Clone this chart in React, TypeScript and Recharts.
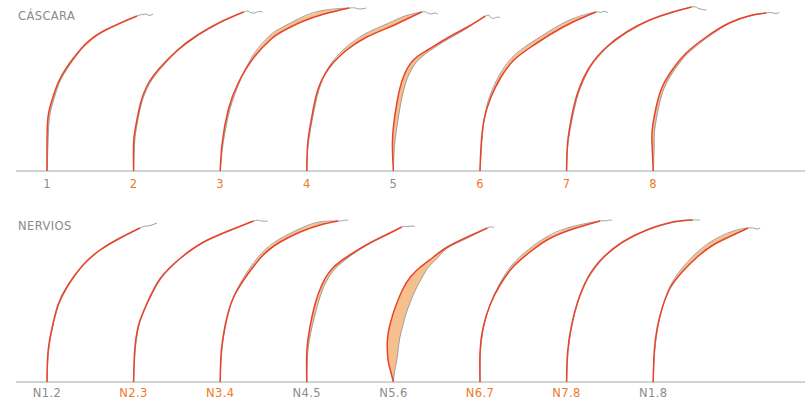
import React from 'react';
import { ScatterChart, Scatter, XAxis, YAxis } from 'recharts';

type Pt = [number, number];
interface Shape { red: Pt[]; grey: Pt[]; tail: Pt[] }

const cascaraLabels = ['1', '2', '3', '4', '5', '6', '7', '8'];
const cascaraHighlight = [false, true, true, true, false, true, true, true];
const nerviosLabels = ['N1.2', 'N2.3', 'N3.4', 'N4.5', 'N5.6', 'N6.7', 'N7.8', 'N1.8'];
const nerviosHighlight = [false, true, true, false, false, true, true, false];

// Each section: red = deformed profile, grey = original profile (offsets from its base: [dx, height])
const cascaraShapes: Shape[] = [
  {
    red: [[0, 0], [0, 28], [1, 54], [5, 71], [11, 88], [20, 104], [33, 121], [53, 138], [90, 155]],
    grey: [[0, 0], [1, 28], [2.5, 54], [6.5, 70.5], [12, 87.5], [21, 103.5], [33.5, 120.5], [53, 137.5], [90, 155]],
    tail: [[96, 156], [99, 157], [102, 155.5], [106, 157]],
  },
  {
    red: [[0, 0], [0, 28], [2, 44], [7, 68], [15, 88], [27, 104], [44, 121], [64, 136], [87, 149], [110, 159]],
    grey: [[0, 0], [1, 28], [3, 44], [8, 68], [16, 87.5], [28, 103.5], [44.5, 120.5], [64.5, 135.5], [87, 148.5], [110, 159]],
    tail: [[116, 159], [121, 158], [125, 159.5], [129, 159]],
  },
  {
    red: [[0, 0], [2, 28], [8, 61], [18, 88], [34, 114], [51, 132], [61, 139], [81, 149], [104, 157], [129, 163]],
    grey: [[0, 0], [3, 28], [9.5, 61], [19, 88], [33, 116], [49, 135], [59, 142], [79, 152.5], [102, 160.5], [129, 163]],
    tail: [[135, 163], [140, 162], [146, 163]],
  },
  {
    red: [[0, 0], [1, 28], [5, 54], [11, 81], [23, 104], [40, 121], [60, 134], [83, 144], [100, 152], [115, 159]],
    grey: [[0, 0], [1.5, 28], [6, 54], [12, 81], [22.5, 105], [38.5, 123], [58, 137], [81, 147.5], [98, 155], [115, 159]],
    tail: [[120, 158.5], [124, 157], [128, 158], [131, 157]],
  },
  {
    red: [[0, 0], [-1, 24], [0, 44], [4, 71], [10, 94], [20, 111], [34, 121], [54, 133], [74, 144], [92, 155]],
    grey: [[0, 0], [1, 24], [3.5, 44], [8, 71], [14, 93], [23, 109], [36, 120], [55, 132], [74, 143], [92, 155]],
    tail: [[97, 154], [100, 152.5], [104, 154], [107, 153]],
  },
  {
    red: [[0, 0], [1, 24], [4, 51], [11, 74], [21, 94], [34, 111], [51, 124], [71, 137], [93, 149], [116, 159]],
    grey: [[0, 0], [1.5, 24], [4, 51], [10, 75.5], [19.5, 96], [32, 113.5], [49, 127], [69.5, 140], [92, 152], [116, 159]],
    tail: [[120, 158], [123, 159.5], [128, 158.5]],
  },
  {
    red: [[0, 0], [1, 28], [5, 54], [11, 78], [23, 104], [40, 124], [60, 139], [83, 151], [106, 159], [125, 164]],
    grey: [[0, 0], [1.5, 28], [6, 54], [12, 78], [23.5, 103.5], [40.5, 123.5], [60.5, 138.5], [83, 150.5], [106, 158.5], [125, 164]],
    tail: [[131, 163], [136, 161.5], [140, 161]],
  },
  {
    red: [[0, 0], [-1, 24], [-1, 41], [3, 64], [9, 84], [19, 101], [33, 118], [53, 134], [76, 148], [99, 156], [113, 158]],
    grey: [[0, 0], [1, 24], [1.5, 41], [5.5, 64], [11, 83], [20.5, 100], [34, 117], [53.5, 133], [76, 147.5], [99, 155.5], [113, 158]],
    tail: [[118, 158.5], [122, 157.5], [126, 158.5]],
  },
];

const nerviosShapes: Shape[] = [
  {
    red: [[0, 0], [1, 30], [5, 54], [11, 77], [21, 97], [36, 117], [53, 132], [73, 144], [93, 154]],
    grey: [[0, 0], [1.5, 30], [5.5, 54], [11.5, 76.5], [21.5, 96.5], [36, 116.5], [53, 131.5], [73, 143.5], [93, 154]],
    tail: [[100, 156], [105, 157], [110, 159]],
  },
  {
    red: [[0, 0], [1, 30], [5, 57], [14, 80], [27, 104], [47, 124], [70, 140], [97, 152], [120, 161]],
    grey: [[0, 0], [1.5, 30], [5.5, 57], [14.5, 80], [27.5, 103.5], [47, 123.5], [70, 139.5], [97, 151.5], [120, 161]],
    tail: [[128, 161], [134, 161]],
  },
  {
    red: [[0, 0], [1, 30], [5, 57], [13, 84], [27, 107], [43, 127], [60, 140], [80, 150], [100, 157], [118, 161]],
    grey: [[0, 0], [1.5, 30], [5.5, 57], [13, 84], [26, 108.5], [41.5, 129], [58.5, 142.5], [79, 153], [99, 160], [118, 161]],
    tail: [[123, 161.5], [128, 162]],
  },
  {
    red: [[0, 0], [0, 30], [3, 54], [8, 77], [15, 97], [26, 114], [43, 127], [63, 139], [83, 149], [95, 155]],
    grey: [[0, 0], [1, 30], [5, 54], [10.5, 76], [17, 95.5], [27.5, 112.5], [43.5, 126], [63, 138.5], [83, 148.5], [95, 155]],
    tail: [[101, 155.5], [105, 156], [108, 155.5]],
  },
  {
    red: [[0, 0], [-2.3, 9], [-5, 20], [-6, 30], [-6, 42], [-4, 55], [-1, 66], [2, 75], [9, 92], [17, 105], [27, 115], [40, 125], [54, 135], [74, 145], [94, 154]],
    grey: [[0, 0], [1, 9], [3, 20], [4.5, 30], [6, 42], [9, 55], [12, 66], [15, 75], [22, 92], [29, 105], [35, 115], [44, 124], [54, 134], [74, 144], [94, 154]],
    tail: [[98, 155], [101, 155]],
  },
  {
    red: [[0, 0], [0, 30], [3, 54], [10, 77], [20, 97], [33, 115], [50, 130], [67, 142], [90, 152], [120, 161]],
    grey: [[0, 0], [0.5, 30], [3.5, 54], [10, 77], [19.5, 98], [32, 117], [48.5, 132.5], [65.5, 144.5], [89, 154.5], [120, 161]],
    tail: [[125, 161], [130, 162], [132, 161]],
  },
  {
    red: [[0, 0], [1, 30], [5, 57], [11, 80], [21, 104], [36, 124], [56, 140], [80, 152], [106, 160], [126, 162]],
    grey: [[0, 0], [1.5, 30], [5.5, 57], [11.5, 80], [21.5, 103.5], [36.5, 123.5], [56, 139.5], [80, 151.5], [106, 159.5], [126, 162]],
    tail: [[130, 162], [133, 162]],
  },
  {
    red: [[0, 0], [1, 30], [4, 54], [9, 74], [17, 94], [29, 110], [44, 125], [60, 137], [80, 147], [95, 154]],
    grey: [[0, 0], [1.5, 30], [4.5, 54], [9, 74], [16.5, 95], [27.5, 112], [42, 128], [58, 140.5], [78.5, 150.5], [95, 154]],
    tail: [[100, 154], [104, 153], [107, 154]],
  },
];

const SLOT = 86.6;
const RED = '#e8432b';
const FILL = '#f6c08e';
const GREY_LINE = '#a0a0a0';
const LABEL_GREY = '#8c8c8c';
const LABEL_ORANGE = '#f07828';
const FONT = '"DejaVu Sans", Verdana, sans-serif';

const Empty = () => <g />;

const toData = (i: number, pts: Pt[]) => pts.map(([dx, h]) => ({ x: i * SLOT + dx, y: h }));

interface PanelProps {
  title: string;
  labels: string[];
  highlight: boolean[];
  shapes: Shape[];
  top: number;
  marginTop: number;
  axisHeight: number;
  labelDy: number;
  titleTop: number;
}

function Panel({ title, labels, highlight, shapes, top, marginTop, axisHeight, labelDy, titleTop }: PanelProps) {
  const bases = labels.map((_, i) => i * SLOT);
  const renderTick = (props: any) => {
    const { x, y, index } = props;
    return (
      <text
        x={x}
        y={y + labelDy}
        textAnchor="middle"
        dominantBaseline="central"
        fontFamily={FONT}
        fontSize={11.5}
        letterSpacing={0.4}
        fill={highlight[index] ? LABEL_ORANGE : LABEL_GREY}
      >
        {labels[index]}
      </text>
    );
  };
  return (
    <div style={{ position: 'absolute', left: 0, top, width: 810, height: 200 }}>
      <ScatterChart width={810} height={200} margin={{ top: marginTop, right: 5, bottom: 0, left: 16 }}>
        <XAxis
          type="number"
          dataKey="x"
          domain={[-31, 758]}
          ticks={bases}
          interval={0}
          allowDataOverflow
          tickLine={false}
          tickSize={0}
          tickMargin={0}
          height={axisHeight}
          axisLine={{ stroke: '#a6a6a6', strokeWidth: 1 }}
          tick={renderTick}
        />
        <YAxis type="number" dataKey="y" domain={[0, 166]} hide allowDataOverflow />
        {shapes.map((s, i) => (
          <Scatter
            key={`f${i}`}
            data={[...toData(i, s.red), ...toData(i, s.grey.slice(1, -1)).reverse()]}
            shape={Empty}
            line={{ stroke: 'none', fill: FILL }}
            lineJointType="linear"
            isAnimationActive={false}
          />
        ))}
        {shapes.map((s, i) => (
          <Scatter
            key={`g${i}`}
            data={toData(i, [...s.grey, ...s.tail])}
            shape={Empty}
            line={{ stroke: GREY_LINE, strokeWidth: 1, fill: 'none' }}
            lineJointType="natural"
            isAnimationActive={false}
          />
        ))}
        {shapes.map((s, i) => (
          <Scatter
            key={`r${i}`}
            data={toData(i, s.red)}
            shape={Empty}
            line={{ stroke: RED, strokeWidth: 1.5, fill: 'none' }}
            lineJointType="natural"
            isAnimationActive={false}
          />
        ))}
      </ScatterChart>
      <div
        style={{
          position: 'absolute',
          left: 18,
          top: titleTop,
          fontFamily: FONT,
          fontSize: 11.5,
          lineHeight: '14px',
          color: '#8a8a8a',
          letterSpacing: 0.4,
        }}
      >
        {title}
      </div>
    </div>
  );
}

export default function App() {
  return (
    <div style={{ position: 'absolute', left: 0, top: 0, width: 810, height: 405, background: '#fff' }}>
      <Panel
        title="CÁSCARA"
        labels={cascaraLabels}
        highlight={cascaraHighlight}
        shapes={cascaraShapes}
        top={0}
        marginTop={5}
        axisHeight={29}
        labelDy={13}
        titleTop={9}
      />
      <Panel
        title="NERVIOS"
        labels={nerviosLabels}
        highlight={nerviosHighlight}
        shapes={nerviosShapes}
        top={205}
        marginTop={11}
        axisHeight={23}
        labelDy={11}
        titleTop={14}
      />
    </div>
  );
}
